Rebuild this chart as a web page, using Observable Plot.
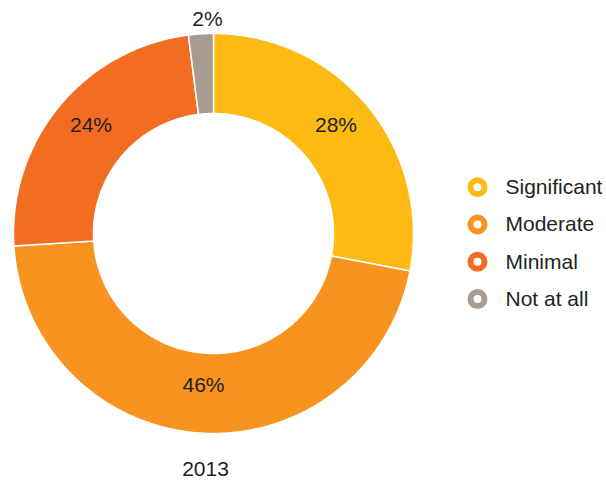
<!DOCTYPE html>
<html>
<head>
<meta charset="utf-8">
<script src="https://cdn.jsdelivr.net/npm/d3@7"></script>
<script src="https://cdn.jsdelivr.net/npm/@observablehq/plot@0.6"></script>
<style>
  html, body { margin: 0; padding: 0; background: #fff; }
  #chart svg { display: block; }
</style>
</head>
<body>
<div id="chart"></div>
<script>
const categories = ["Significant", "Moderate", "Minimal", "Not at all"];
const values = [28, 46, 24, 2];
const colors = ["#FCBA12", "#F7931E", "#F26C22", "#A89B90"];
const yearLabel = "2013";

const innerR = 0.6, outerR = 1;
const total = d3.sum(values);
const slices = [];
let acc = 0;
categories.forEach((c, i) => {
  const a0 = acc / total * 2 * Math.PI;
  acc += values[i];
  const a1 = acc / total * 2 * Math.PI;
  slices.push({cat: c, value: values[i], a0, a1});
});

// polygon points for each slice (outer arc then inner arc back)
const pts = [];
for (const s of slices) {
  const n = Math.max(4, Math.ceil((s.a1 - s.a0) / 0.01));
  for (let k = 0; k <= n; k++) {
    const a = s.a0 + (s.a1 - s.a0) * k / n;
    pts.push({cat: s.cat, x: outerR * Math.sin(a), y: outerR * Math.cos(a)});
  }
  for (let k = n; k >= 0; k--) {
    const a = s.a0 + (s.a1 - s.a0) * k / n;
    pts.push({cat: s.cat, x: innerR * Math.sin(a), y: innerR * Math.cos(a)});
  }
  pts.push({cat: s.cat, x: outerR * Math.sin(s.a0), y: outerR * Math.cos(s.a0)});
}

const labels = slices.map(s => {
  const m = (s.a0 + s.a1) / 2;
  const small = s.value < 5;
  const r = small ? 1.042 : 0.795;
  return {cat: s.cat, text: s.value + "%", x: r * Math.sin(m), y: r * Math.cos(m), small};
});

const legendRows = categories.map((c, i) => ({cat: c, x: 1.32, y: 0.2315 - i * 0.1865}));

const font = "'Liberation Sans', Arial, sans-serif";

const chart = Plot.plot({
  width: 606,
  height: 481,
  marginLeft: 13,
  marginRight: 193,
  marginTop: 33,
  marginBottom: 48,
  x: {domain: [-1, 1], axis: null},
  y: {domain: [-1, 1], axis: null},
  color: {domain: categories, range: colors},
  style: {fontFamily: font, background: "#fff"},
  marks: [
    Plot.line(pts, {x: "x", y: "y", z: "cat", fill: "cat", stroke: "#fff", strokeWidth: 1.5, curve: "linear"}),
    Plot.text(labels.filter(d => !d.small), {x: "x", y: "y", text: "text", fontSize: 21, fill: "#231F20", dy: -6.5}),
    Plot.text(labels.filter(d => d.small), {x: "x", y: "y", text: "text", fontSize: 21, fill: "#231F20", dx: 7, dy: -6.5}),
    Plot.dot(legendRows, {x: "x", y: "y", r: 7, stroke: "cat", strokeWidth: 6, fill: "#fff"}),
    Plot.text(legendRows, {x: "x", y: "y", text: "cat", textAnchor: "start", dx: 28, fontSize: 21, fill: "#231F20"}),
    Plot.text([yearLabel], {frameAnchor: "bottom", text: d => d, dy: 42, dx: -8, fontSize: 21, fill: "#231F20"})
  ]
});
document.getElementById("chart").appendChild(chart);
</script>
</body>
</html>
